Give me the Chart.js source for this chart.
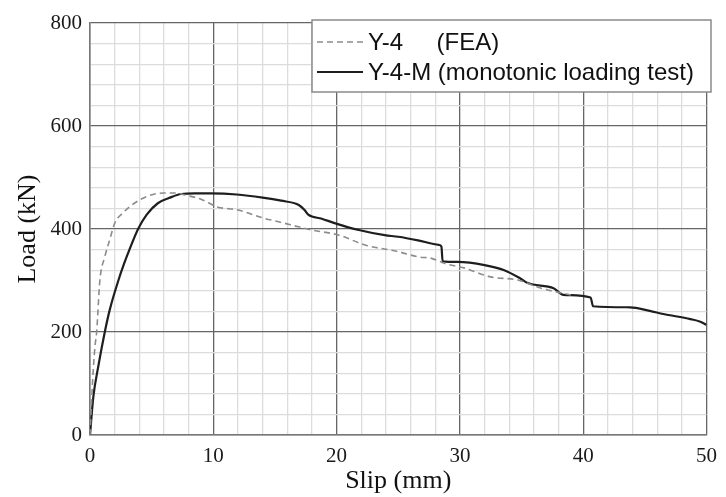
<!DOCTYPE html>
<html>
<head>
<meta charset="utf-8">
<script src="https://cdn.jsdelivr.net/npm/chart.js@4.4.7/dist/chart.umd.min.js"></script>
<style>
  html, body { margin: 0; padding: 0; background: #fff; }
  #wrap { width: 726px; height: 497px; }
</style>
</head>
<body>
<div id="wrap"><canvas id="slipChart" width="726" height="497"></canvas></div>
<script>
// Y-4-M test curve (slip mm, load kN)
var testSlip = [0, 0.27, 0.67, 1.2, 1.6, 2.3, 2.8, 3.2, 3.9, 4.6, 5.5, 6.4, 7.4, 8.5, 9.8, 11.9, 14.0, 15.5, 16.9, 17.4, 17.7, 18.8, 19.9, 21.8, 23.9, 25.0, 26.6, 28.3, 28.5, 28.6, 29.8, 32.0, 33.6, 34.9, 35.5, 37.6, 38.4, 40.6, 40.8, 43.8, 45.4, 46.5, 48.7, 49.5, 50];
var testLoad = [0, 74, 133, 200, 243, 300, 335, 360, 400, 428, 450, 460, 468, 469, 469, 467, 461, 455, 447, 437, 428, 420, 411, 398, 388, 385, 378, 369, 366, 337, 336, 330, 320, 304, 295, 285, 272, 267, 250, 248, 241, 235, 225, 220, 214];

// Y-4 FEA curve
var feaSlip = [0, 0.2, 0.4, 0.54, 0.8, 1.2, 1.6, 2.0, 2.7, 3.6, 4.7, 6.0, 7.0, 7.7, 9.0, 10.3, 12.0, 14.1, 15.3, 18.0, 20.2, 22.3, 25.0, 26.6, 27.7, 28.8, 30.4, 32.5, 34.7, 36.6, 39.0];
var feaLoad = [0, 100, 171, 200, 300, 346, 379, 411, 432, 450, 464, 470, 470, 466, 458, 443, 437, 421, 414, 398, 388, 369, 356, 346, 343, 333, 324, 307, 301, 285, 272];

var xLabelTicks = [0, 10, 20, 30, 40, 50];
var yLabelTicks = [0, 200, 400, 600, 800];
var seriesNames = ["Y-4     (FEA)", "Y-4-M (monotonic loading test)"];

function toPoints(xs, ys) {
  return xs.map(function (x, i) { return { x: x, y: ys[i] }; });
}

var legendBox = {
  id: "legendBox",
  afterDatasetsDraw: function (chart) {
    var ctx = chart.ctx;
    var left = 312, top = 20, right = 711, bottom = 92;
    ctx.save();
    ctx.fillStyle = "#fff";
    ctx.fillRect(left, top, right - left, bottom - top);
    ctx.strokeStyle = "#8a8a8a";
    ctx.lineWidth = 1.5;
    ctx.strokeRect(left, top, right - left, bottom - top);

    var rows = [42, 72];
    chart.data.datasets.forEach(function (ds, i) {
      ctx.beginPath();
      ctx.setLineDash(ds.borderDash || []);
      ctx.strokeStyle = ds.borderColor;
      ctx.lineWidth = ds.borderWidth;
      ctx.moveTo(317, rows[i]);
      ctx.lineTo(363, rows[i]);
      ctx.stroke();
      ctx.setLineDash([]);
      ctx.fillStyle = "#111";
      ctx.font = "24px 'Liberation Sans', Arial, sans-serif";
      ctx.textBaseline = "middle";
      ctx.textAlign = "left";
      ctx.fillText(ds.label, 368, rows[i] + 1);
    });
    ctx.restore();
  }
};

var ctx = document.getElementById("slipChart");
new Chart(ctx, {
  type: "line",
  data: {
    datasets: [{
      label: seriesNames[0],
      data: toPoints(feaSlip, feaLoad),
      borderColor: "#8c8c8c",
      borderWidth: 1.6,
      borderDash: [6, 4],
      pointRadius: 0,
      cubicInterpolationMode: "monotone",
      fill: false,
    }, {
      label: seriesNames[1],
      data: toPoints(testSlip, testLoad),
      borderColor: "#1e1e1e",
      borderWidth: 2.2,
      pointRadius: 0,
      cubicInterpolationMode: "monotone",
      fill: false,
    }],
  },
  options: {
    responsive: false,
    animation: false,
    devicePixelRatio: 1,
    layout: { padding: { top: 23, right: 16, left: 0, bottom: 0 } },
    plugins: {
      legend: { display: false },
      tooltip: { enabled: false },
    },
    scales: {
      x: {
        type: "linear",
        min: 0,
        max: 50,
        afterFit: function (scale) { scale.height = 62; },
        border: { color: "#777", width: 1.5 },
        grid: {
          drawTicks: false,
          color: function (c) { return c.tick && c.tick.value % 10 === 0 ? "#666" : "#dcdcdc"; },
          lineWidth: 1.3,
        },
        ticks: {
          stepSize: 2,
          autoSkip: false,
          maxRotation: 0,
          padding: 9,
          color: "#1a1a1a",
          font: { family: "'Liberation Serif', 'Times New Roman', serif", size: 21 },
          callback: function (v) { return xLabelTicks.indexOf(v) >= 0 ? String(v) : ""; },
        },
        title: {
          display: true,
          text: "Slip (mm)",
          color: "#111",
          padding: { top: 0, bottom: 0 },
          font: { family: "'Liberation Serif', 'Times New Roman', serif", size: 26 },
        },
      },
      y: {
        min: 0,
        max: 800,
        afterFit: function (scale) { scale.width = 90; },
        border: { color: "#777", width: 1.5 },
        grid: {
          drawTicks: false,
          color: function (c) { return c.tick && c.tick.value % 200 === 0 ? "#666" : "#dcdcdc"; },
          lineWidth: 1.3,
        },
        ticks: {
          stepSize: 40,
          autoSkip: false,
          padding: 8,
          color: "#1a1a1a",
          font: { family: "'Liberation Serif', 'Times New Roman', serif", size: 21 },
          callback: function (v) { return yLabelTicks.indexOf(v) >= 0 ? String(v) : ""; },
        },
        title: {
          display: true,
          text: "Load (kN)",
          color: "#111",
          padding: { top: 13, bottom: 0 },
          font: { family: "'Liberation Serif', 'Times New Roman', serif", size: 26 },
        },
      },
    },
  },
  plugins: [legendBox],
});
</script>
</body>
</html>
